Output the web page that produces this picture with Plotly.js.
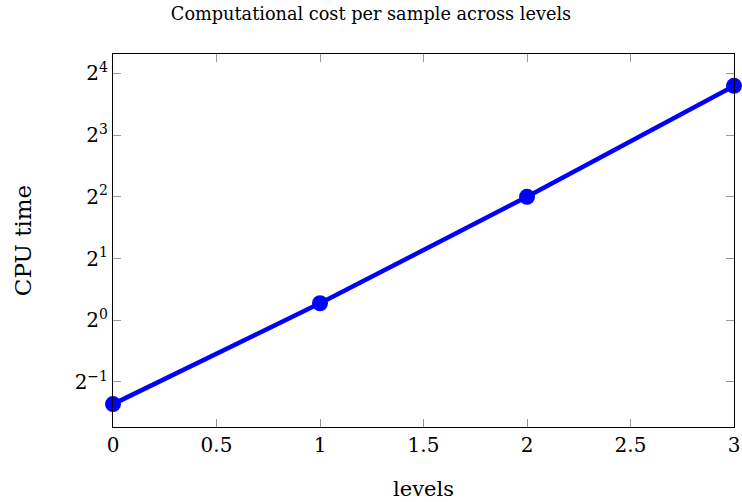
<!DOCTYPE html>
<html>
<head>
<meta charset="utf-8">
<script src="https://cdn.plot.ly/plotly-3.0.1.min.js"></script>
<style>html,body{margin:0;padding:0;background:#fff;}#chart{width:742px;height:502px;}</style>
</head>
<body>
<div id="chart"></div>
<script>
const levels = [0, 1, 2, 3];
const cpuTime = [0.39, 1.21, 4.0, 13.9];
const yTickVals = [0.5, 1, 2, 4, 8, 16];
const yTickText = ['2<sup>−1</sup>', '2<sup>0</sup>', '2<sup>1</sup>', '2<sup>2</sup>', '2<sup>3</sup>', '2<sup>4</sup>'];
const xTickVals = [0, 0.5, 1, 1.5, 2, 2.5, 3];
const xTickText = ['0', '0.5', '1', '1.5', '2', '2.5', '3'];

const font = 'DejaVu Serif, Liberation Serif, serif';
const trace = {
  x: levels, y: cpuTime, type: 'scatter', mode: 'lines+markers',
  line: {color: '#0000ff', width: 4.5},
  marker: {color: '#0000ff', size: 16},
  cliponaxis: false, showlegend: false
};
const layout = {
  width: 742, height: 502,
  margin: {l: 113, r: 8, t: 54, b: 75},
  paper_bgcolor: '#fff', plot_bgcolor: '#fff',
  font: {family: font, color: '#000', size: 18},
  title: {text: 'Computational cost per sample across levels', font: {family: font, size: 17.7, color: '#000'}, x: 0.5, xanchor: 'center', y: 0.985, yanchor: 'top'},
  xaxis: {
    range: [0, 3], tickvals: xTickVals, ticktext: xTickText,
    showline: true, linecolor: '#000', linewidth: 1, mirror: 'ticks',
    ticks: 'inside', ticklen: 8, tickcolor: '#999', tickwidth: 1,
    showgrid: false, zeroline: false,
    tickfont: {family: font, size: 20},
    title: {text: 'levels', font: {family: font, size: 21}, standoff: 25}
  },
  yaxis: {
    type: 'log', range: [-0.5205, 1.2984], tickvals: yTickVals, ticktext: yTickText,
    showline: true, linecolor: '#000', linewidth: 1, mirror: 'ticks',
    ticks: 'inside', ticklen: 8, tickcolor: '#999', tickwidth: 1,
    showgrid: false, zeroline: false,
    tickfont: {family: font, size: 20},
    title: {text: 'CPU time', font: {family: font, size: 23}, standoff: 36}
  }
};
Plotly.newPlot('chart', [trace], layout, {displayModeBar: false, staticPlot: true});
</script>
</body>
</html>
